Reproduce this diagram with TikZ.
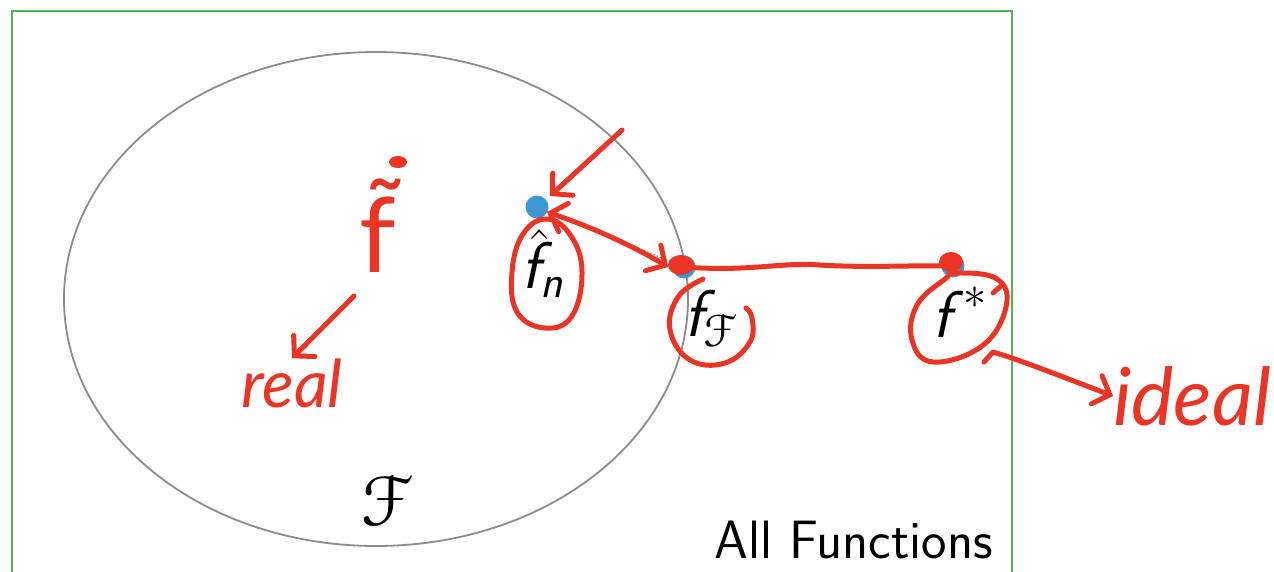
\RequirePackage{fix-cm}
\documentclass[tikz,border=0pt]{standalone}
\usepackage{eucal}
\usepackage{fontspec}
\newfontfamily\hand{Lato}
\usetikzlibrary{arrows.meta}
\definecolor{boxgreen}{RGB}{84,178,80}
\definecolor{dotblue}{RGB}{58,152,214}
\definecolor{inkred}{RGB}{236,52,36}
\definecolor{ellgray}{RGB}{140,140,140}
\tikzset{
  fdot/.style={circle, fill=dotblue, minimum size=23pt, inner sep=0pt},
  lbl/.style={inner sep=0pt, text=black},
  biglbl/.style={lbl, font=\fontsize{66}{72}\selectfont},
  ink/.style={draw=inkred, line width=5pt, line cap=round, line join=round},
  barb/.style={-{Straight Barb[length=14pt, width=30pt, line width=5pt, line cap=round]}},
  dbarb/.style={{Straight Barb[length=14pt, width=30pt, line width=5pt, line cap=round]}-{Straight Barb[length=14pt, width=30pt, line width=5pt, line cap=round]}},
  inktext/.style={inner sep=0pt, text=inkred, font=\hand\itshape\fontsize{66}{72}\selectfont},
}
\newcommand{\sff}{\hbox{\sffamily\itshape f}}
\newcommand{\sffc}{\hbox{\sffamily\itshape f\/}}
\newcommand{\sffhat}{\hbox{\sffamily\itshape\raisebox{0pt}[0.62em]{f}}}
\begin{document}
\begin{tikzpicture}[x=1pt, y=-1pt]
\useasboundingbox (0,0) rectangle (1274,571);
\clip (0,0) rectangle (1274,571);
% all functions box
\draw[boxgreen, line width=2pt] (12,11) rectangle (1012,620);
\node[lbl, anchor=base east, font=\sffamily\fontsize{54}{60}\selectfont] (allf) at (993,558) {All Functions};
% class F
\draw[ellgray, line width=1.8pt] (376,299) ellipse [x radius=312, y radius=247];
\node[lbl, font=\fontsize{72}{80}\selectfont] (calF) at (386,500) {$\mathcal{F}$};
% dots
\node[fdot] (fhat) at (537,207) {};
\node[fdot] (fF) at (684,267) {};
\node[fdot] (fstar) at (953,266) {};
\draw[ellgray, line width=1.4pt, dotted] (fhat.center) -- (fF.center) -- (fstar.center);
% labels
\node[biglbl, anchor=base] (lfhat) at (542,288) {$\skew{5}\hat{\sffhat}_{\hbox{\sffamily\itshape\fontsize{46}{50}\selectfont n}}$};
\node[biglbl] (lfF) at (710,318) {$\sff_{\mathcal{F}}$};
\node[biglbl] (lfstar) at (960,312) {$\sffc^{*}$};
% red annotations
\fill[inkred] (681,265) ellipse [x radius=13, y radius=10];
\fill[inkred] (951,262) ellipse [x radius=12, y radius=10];
\draw[ink] (fF.center) .. controls (750,272) and (780,262) .. (820,265) .. controls (870,268) and (910,265) .. (fstar.center);
\coordinate (a1s) at (622,130);
\draw[ink, barb] (a1s) -- ([shift={(13,-11)}]fhat.center);
\draw[ink, dbarb] ([shift={(10,5)}]fhat.center) .. controls (600,230) and (640,250) .. ([shift={(-16,0)}]fF.center);
% loops
\draw[ink] plot[smooth cycle, tension=0.7] coordinates {(547,219) (571,236) (582,272) (572,316) (545,328) (517,312) (512,272) (523,234)};
\draw[ink] plot[smooth, tension=0.7] coordinates {(703,279) (678,297) (670,330) (690,360) (725,363) (750,342) (752,318) (746,308)};
\draw[ink] plot[smooth cycle, tension=0.7] coordinates {(957,273) (997,279) (1006,307) (982,346) (933,362) (912,340) (917,305) (945,279)};
\draw[ink] (993,293) -- (1001,286);
% ideal
\coordinate (a2s) at (984,362);
\node[inktext, anchor=west, font=\hand\itshape\fontsize{80}{86}\selectfont] (ideal) at (1113,396) {ideal};
\draw[ink, barb] (a2s) -- (993,352) .. controls (1020,360) and (1050,372) .. (ideal.west);
% f tilde and real
\node[inktext, font=\hand\fontsize{104}{110}\selectfont] (ftil) at (378,226) {\~{f}};
\fill[inkred] (398,162) ellipse [x radius=9, y radius=6];
\node[inktext] (real) at (292,383) {real};
\coordinate (a3s) at (354,296);
\draw[ink, barb] (a3s) -- (real.north);
\end{tikzpicture}
\end{document}
